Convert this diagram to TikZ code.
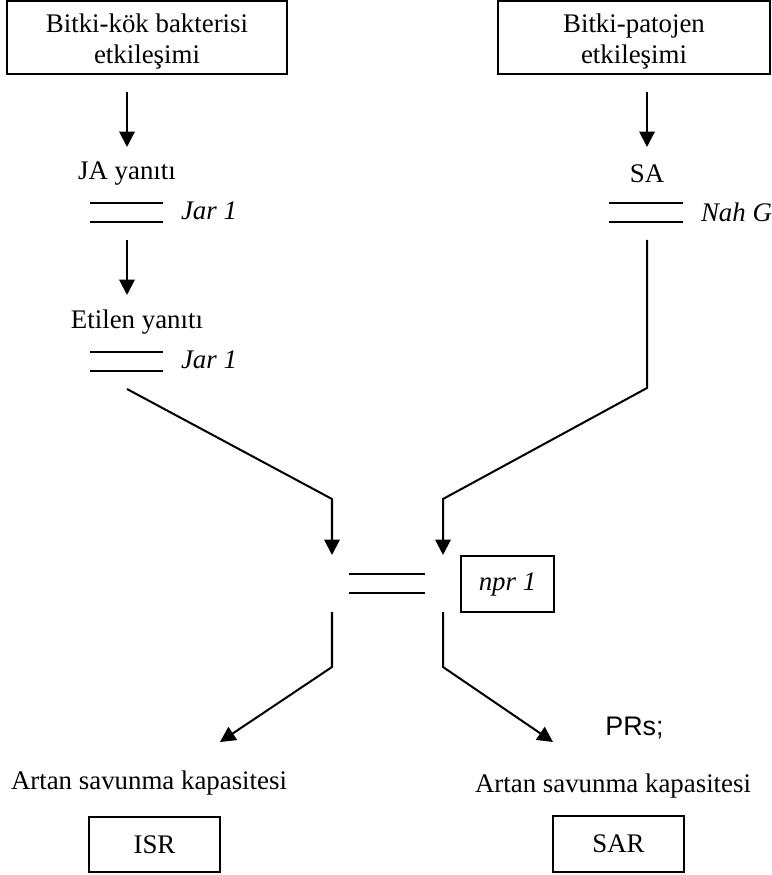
\documentclass[tikz,border=0pt]{standalone}
\usepackage{fontspec}
\setmainfont{Liberation Serif}
\newfontfamily\arialfont{Liberation Sans}
\usetikzlibrary{arrows.meta}
\def\px{0.4468pt}

\begin{document}
\begin{tikzpicture}[x=\px,y=-\px,line width=0.9pt,>={Triangle[length=6.9pt,width=6.9pt]}]
    \tikzstyle{every node}=[font=\fontsize{12}{14.1}\selectfont,inner sep=0pt]
    \tikzstyle{kutu}=[draw,align=center]
    \tikzstyle{gen}=[anchor=west,font=\fontsize{12}{14.1}\selectfont\itshape]
    \useasboundingbox (0,0) rectangle (771,875);

    % Ust kutular
    \node[kutu,minimum width=280*\px,minimum height=73*\px] (kok) at (147,37.5)
        {\rule{0pt}{11.8pt}Bitki-k\"ok bakterisi\\etkile\c{s}imi};
    \node[kutu,minimum width=272*\px,minimum height=73*\px] (patojen) at (634,37.5)
        {\rule{0pt}{11.8pt}Bitki-patojen\\etkile\c{s}imi};

    % Ara basamaklar
    \node (ja) at (127,174) {JA yan\i t\i};
    \node (etilen) at (137,322) {Etilen yan\i t\i};
    \node (sa) at (647,174) {SA};
    \node[gen] (jar1) at (180,211) {Jar 1};
    \node[gen] (jar2) at (180,360) {Jar 1};
    \node[gen] (nahg) at (700,212) {Nah G};
    \node[kutu,minimum width=93*\px,minimum height=56*\px,font=\fontsize{12}{14.1}\selectfont\itshape]
        (npr) at (507.5,584) {npr 1};

    % Alt basamaklar
    \node (prs) at (634.5,728) {\arialfont PRs;};
    \node (artan1) at (149,783) {Artan savunma kapasitesi};
    \node (artan2) at (613,786) {Artan savunma kapasitesi};
    \node[kutu,minimum width=131*\px,minimum height=55*\px] (isr) at (154.5,844.5) {ISR};
    \node[kutu,minimum width=131*\px,minimum height=56*\px] (sar) at (618.5,844) {SAR};

    % Cift cizgiler
    \foreach \xa/\xb/\ya in {90/163/203, 90/163/352, 609/683/203, 349/425/574}
    {
        \draw (\xa,\ya) -- (\xb,\ya);
        \draw (\xa,\ya+19) -- (\xb,\ya+19);
    }

    % Ok uclari
    \coordinate (k1) at (127,92);   \coordinate (k2) at (127,147);
    \coordinate (k3) at (127,240);  \coordinate (k4) at (127,295);
    \coordinate (p1) at (647,92);   \coordinate (p2) at (647,147);
    \coordinate (e1) at (127,389);  \coordinate (e2) at (332,499);  \coordinate (e3) at (332,555);
    \coordinate (s1) at (647,240);  \coordinate (s2) at (647,388);
    \coordinate (s3) at (443,499);  \coordinate (s4) at (443,555);
    \coordinate (i1) at (332,612);  \coordinate (i2) at (332,667);  \coordinate (i3) at (220,742);
    \coordinate (r1) at (443,612);  \coordinate (r2) at (443,667);  \coordinate (r3) at (553,742);

    \draw[->] (k1) -- (k2);
    \draw[->] (k3) -- (k4);
    \draw[->] (p1) -- (p2);
    \draw[->] (e1) -- (e2) -- (e3);
    \draw[->] (s1) -- (s2) -- (s3) -- (s4);
    \draw[->] (i1) -- (i2) -- (i3);
    \draw[->] (r1) -- (r2) -- (r3);
\end{tikzpicture}
\end{document}
